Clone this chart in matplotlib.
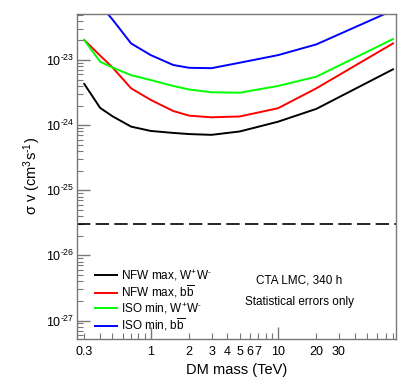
import matplotlib
matplotlib.use("Agg")
import matplotlib.pyplot as plt
from matplotlib.ticker import FixedLocator, NullFormatter

plt.rcParams['font.family'] = ['Liberation Sans', 'DejaVu Sans']
plt.rcParams['mathtext.fontset'] = 'custom'
plt.rcParams['mathtext.rm'] = 'Liberation Sans'
plt.rcParams['mathtext.it'] = 'Liberation Sans:italic'
plt.rcParams['mathtext.bf'] = 'Liberation Sans:bold'

# DM mass grid (TeV)
mass = [0.3, 0.4, 0.5, 0.7, 1, 1.5, 2, 3, 5, 10, 20, 80]

# <sigma v> upper limits (cm^3 s^-1)
nfw_ww = [4.3e-24, 1.84e-24, 1.37e-24, 9.5e-25, 8.15e-25, 7.6e-25, 7.3e-25, 7.1e-25, 8.0e-25, 1.13e-24, 1.78e-24, 7.2e-24]
nfw_bb = [2.03e-23, 1.17e-23, 7.7e-24, 3.68e-24, 2.44e-24, 1.65e-24, 1.40e-24, 1.32e-24, 1.36e-24, 1.82e-24, 3.68e-24, 1.8e-23]
iso_ww = [2.03e-23, 9.4e-24, 7.7e-24, 5.85e-24, 4.93e-24, 4.0e-24, 3.53e-24, 3.2e-24, 3.15e-24, 4.0e-24, 5.55e-24, 2.1e-23]
iso_bb = [1.3e-22, 7.0e-23, 4.2e-23, 1.8e-23, 1.19e-23, 8.4e-24, 7.6e-24, 7.5e-24, 9.1e-24, 1.19e-23, 1.74e-23, 5.8e-23]

thermal = 3e-26

labels = [r"NFW max, W$^{+}$W$^{\text{-}}$", r"NFW max, b$\overline{\mathrm{b}}$",
          r"ISO min, W$^{+}$W$^{\text{-}}$", r"ISO min, b$\overline{\mathrm{b}}$"]
colors = ['black', '#ff0000', '#00ff00', '#0000ff']

xtick_major = [1, 10]
xtick_labeled = [0.3, 2, 3, 4, 5, 6, 7, 20, 30]
xtick_plain = [0.4, 0.5, 0.6, 0.7, 0.8, 0.9, 8, 9, 40, 50, 60, 70, 80]

ytick_exp = [-27, -26, -25, -24, -23]
ytick_minor = [m * 10.0 ** e for e in range(-28, -22) for m in range(2, 10)
               if 5.2e-28 < m * 10.0 ** e < 5.1e-23]

fig = plt.figure(figsize=(4.11, 3.84), dpi=100)
ax = fig.add_axes([0.1873, 0.1172, 0.7762, 0.8464])

for y, lab, c in zip([nfw_ww, nfw_bb, iso_ww, iso_bb], labels, colors):
    ax.plot(mass, y, color=c, lw=1.4, label=lab)

ax.axhline(thermal, color='black', lw=1.2, dashes=(8, 3.2))

ax.set_xscale('log')
ax.set_yscale('log')
ax.set_xlim(0.263, 84.5)
ax.set_ylim(5.2e-28, 5.1e-23)

ax.set_xticks(xtick_major, ['1', '10'])
ax.set_xticks(xtick_labeled + xtick_plain,
              [str(v) for v in xtick_labeled] + [''] * len(xtick_plain), minor=True)
ax.set_yticks([10.0 ** e for e in ytick_exp],
              [r'$10^{\text{-%d}}$' % -e for e in ytick_exp])
ax.yaxis.set_minor_locator(FixedLocator(ytick_minor))
ax.yaxis.set_minor_formatter(NullFormatter())

ax.tick_params(which='both', direction='in', colors='#777777', labelcolor='black',
               labelsize=9, top=False, right=False)
ax.tick_params(which='major', length=9, width=1)
ax.tick_params(which='minor', length=4.5, width=0.8)
ax.tick_params(axis='x', which='both', pad=5)
ax.tick_params(axis='y', which='both', pad=2)
for s in ax.spines.values():
    s.set_color('#777777')
    s.set_linewidth(1.0)

ax.set_xlabel('DM mass (TeV)', fontsize=10.5, labelpad=4)
ax.set_ylabel(r'σ v (cm$^{3}$s$^{\text{-1}}$)', fontsize=10.5)
ax.yaxis.set_label_coords(-0.105, 0.5)

ax.legend(loc='center left', bbox_to_anchor=(0.056, 0.118), frameon=False,
          fontsize=8.5, handlelength=1.85, handletextpad=0.4, borderpad=0,
          labelspacing=0.05, borderaxespad=0)

ax.text(0.696, 0.179, 'CTA LMC, 340 h', transform=ax.transAxes,
        ha='center', va='center', fontsize=8.5)
ax.text(0.696, 0.115, 'Statistical errors only', transform=ax.transAxes,
        ha='center', va='center', fontsize=8.5)

fig.savefig('out.png', dpi=100)
